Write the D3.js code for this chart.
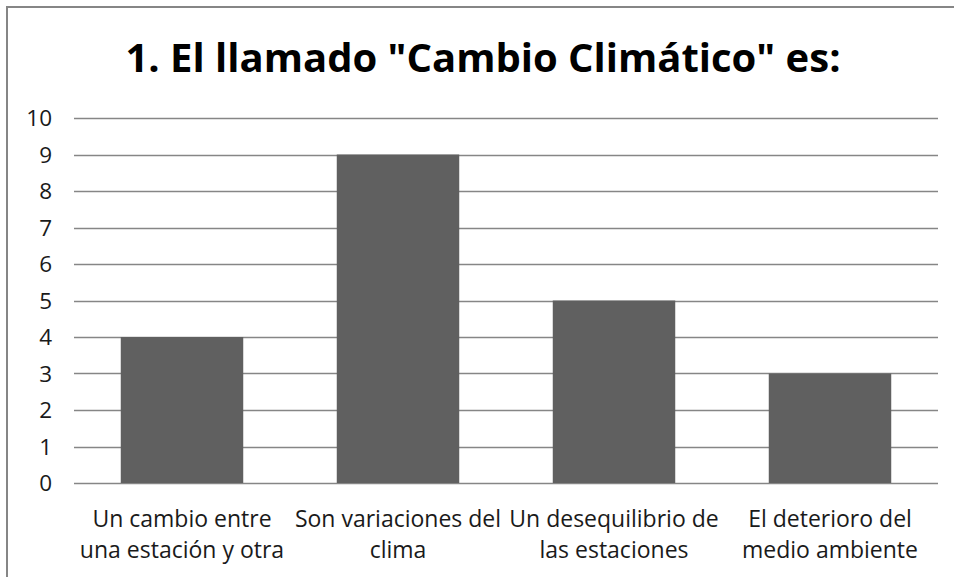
<!DOCTYPE html>
<html><head><meta charset="utf-8">
<script src="https://cdn.jsdelivr.net/npm/d3@7"></script>
<style>body{margin:0;background:#fff}svg{display:block}</style>
</head><body>
<svg id="c" width="954" height="577"></svg>
<script>
const categories = [["Un cambio entre","una estación y otra"],["Son variaciones del","clima"],["Un desequilibrio de","las estaciones"],["El deterioro del","medio ambiente"]];
const values = [4, 9, 5, 3];
const yTicks = [0,1,2,3,4,5,6,7,8,9,10];
const title = '1. El llamado "Cambio Climático" es:';

const svg = d3.select("#c");
const font = "'Open Sans', sans-serif";
svg.append("rect").attr("x",7).attr("y",7).attr("width",960).attr("height",600)
  .attr("fill","#fff").attr("stroke","#868686").attr("stroke-width",2);

const x = d3.scaleBand().domain(d3.range(categories.length)).range([74,938]).paddingInner(0.433).paddingOuter(0.2165);
const y = d3.scaleLinear().domain([0,10]).range([483,118]);

svg.append("g").selectAll("line").data(yTicks).join("line")
  .attr("x1",74).attr("x2",938).attr("y1",d=>Math.round(y(d))+0.5).attr("y2",d=>Math.round(y(d))+0.5)
  .attr("stroke","#868686").attr("stroke-width",1.3);

svg.append("g").selectAll("text").data(yTicks).join("text")
  .attr("x",52).attr("y",d=>y(d)).attr("dy","0.36em").attr("text-anchor","end")
  .attr("font-family",font).attr("font-size",22.5).attr("fill","#1a1a1a").text(d=>d);

svg.append("g").selectAll("rect").data(values).join("rect")
  .attr("x",(d,i)=>x(i)).attr("width",x.bandwidth())
  .attr("y",d=>y(d)).attr("height",d=>y(0)-y(d)).attr("fill","#606060");

const lab = svg.append("g").selectAll("text").data(categories).join("text")
  .attr("text-anchor","middle").attr("font-family",font).attr("font-size",23).attr("fill","#1a1a1a");
lab.each(function(d,i){
  const t=d3.select(this);
  d.forEach((line,j)=>t.append("tspan").attr("x",x(i)+x.bandwidth()/2).attr("y",527+j*31).text(line));
});

svg.append("text").attr("x",483).attr("y",72).attr("text-anchor","middle")
  .attr("font-family",font).attr("font-weight","bold").attr("font-size",40).attr("fill","#000").text(title);
</script>
</body></html>
